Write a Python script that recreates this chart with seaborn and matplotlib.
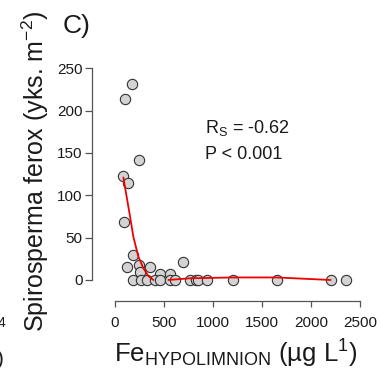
import numpy as np
import pandas as pd
import seaborn as sns
import matplotlib
matplotlib.use("Agg")
import matplotlib.pyplot as plt

# Fe in hypolimnion (ug/L) vs Spirosperma ferox density (yks. m-2)
fe = [176, 102, 248, 78, 129, 92, 187, 126, 248, 357, 690, 255, 459, 561,
      180, 262, 323, 408, 459, 561, 612, 765, 826, 850, 941, 1200, 1648, 2199, 2355]
spiro = [231, 214, 142, 123, 115, 68, 30, 15, 18, 15, 21, 9, 7, 7,
         0, 0, 0, 0, 0, 0, 0, 0, 0, 0, 0, 0, 0, 0, 0]

# fitted curve (two pieces, as drawn in the original)
fit1_x = [85, 119, 153, 187, 238, 289, 340, 391]
fit1_y = [121, 98, 75, 51, 27.5, 14, 4.7, 0]
fit2_x = [544, 765, 1200, 1648, 2200]
fit2_y = [0, 2, 3, 3, 0]

x_ticks = [0, 500, 1000, 1500, 2000, 2500]
y_ticks = [0, 50, 100, 150, 200, 250]

sns.set_style("ticks")
plt.rcParams["font.family"] = ["Liberation Sans", "DejaVu Sans"]
plt.rcParams["mathtext.default"] = "regular"

fig = plt.figure(figsize=(3.81, 3.71), dpi=100)
W, H = 381, 371
ax = fig.add_axes([92.3 / W, (H - 301) / H, (375 - 92.3) / W, (301 - 55) / H])

df = pd.DataFrame({"fe": fe, "spiro": spiro})
sns.scatterplot(data=df, x="fe", y="spiro", ax=ax, s=55, color="#d3d3d3",
                edgecolor="#333333", linewidth=0.8, zorder=2, legend=False)
sns.lineplot(x=fit1_x, y=fit1_y, ax=ax, color="#ee0000", lw=1.3, zorder=3)
sns.lineplot(x=fit2_x, y=fit2_y, ax=ax, color="#ee0000", lw=1.3, zorder=3)

ax.set_xlim(-232, 2653)
ax.set_ylim(-24.8, 265.6)
ax.set_xticks(x_ticks)
ax.set_yticks(y_ticks)
ax.spines["top"].set_visible(False)
ax.spines["right"].set_visible(False)
ax.spines["left"].set_bounds(0, 250)
ax.spines["bottom"].set_bounds(0, 2500)
for sp in ("left", "bottom"):
    ax.spines[sp].set_color("#555555")
    ax.spines[sp].set_linewidth(0.9)
ax.tick_params(axis="y", length=5, width=0.9, color="#555555", pad=2,
               labelsize=11, labelcolor="#1a1a1a")
ax.tick_params(axis="x", length=4, width=0.9, color="#555555", pad=6.5,
               labelsize=11, labelcolor="#1a1a1a")

ax.set_xlabel("Fe$_{HYPOLIMNION}$ (µg L$^{1}$)", fontsize=18.5, color="#1a1a1a",
              va="baseline")
ax.xaxis.set_label_coords(0.508, -0.252)
ax.set_ylabel("Spirosperma ferox (yks. m$^{-2}$)", fontsize=18, color="#1a1a1a",
              va="baseline")
ax.yaxis.set_label_coords(-0.171, 0.526)

ax.text(205 / W, 1 - 133 / H, "R$_S$ = -0.62", transform=fig.transFigure,
        fontsize=13, color="#1a1a1a", va="baseline")
ax.text(205 / W, 1 - 159 / H, "P < 0.001", transform=fig.transFigure,
        fontsize=13, color="#1a1a1a", va="baseline")

fig.text(63 / W, 1 - 33 / H, "C)", fontsize=19, color="#1a1a1a", va="baseline")

# fragments of the neighbouring panel cut at the left edge
fig.text(5 / W, 1 - 327 / H, "4", fontsize=10, color="#1a1a1a", ha="right", va="baseline")
fig.text(4 / W, 1 - 365 / H, ")", fontsize=15, color="#1a1a1a", ha="right", va="baseline")

fig.savefig("out.png", dpi=100)
